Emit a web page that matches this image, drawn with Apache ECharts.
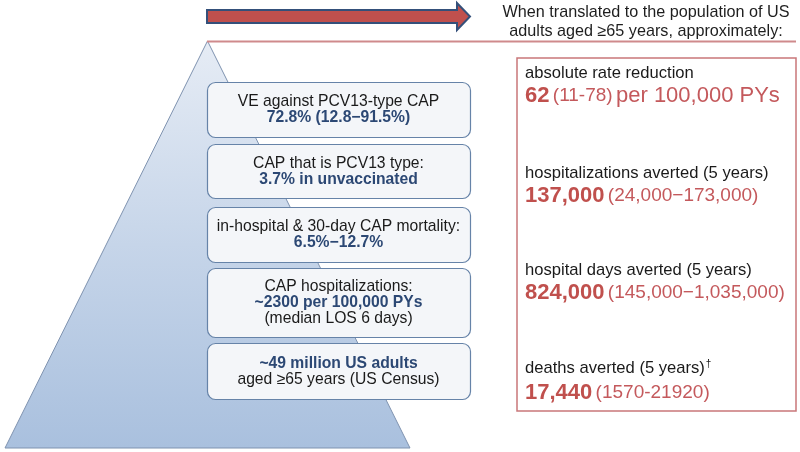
<!DOCTYPE html>
<html>
<head>
<meta charset="utf-8">
<script src="https://cdn.jsdelivr.net/npm/echarts@6/dist/echarts.min.js"></script>
<style>
  html, body { margin: 0; padding: 0; background: #ffffff; }
  #main { width: 800px; height: 452px; }
</style>
</head>
<body>
<div id="main"></div>
<script>
// ---- data ----
const headerLines = ['When translated to the population of US', 'adults aged \u226565 years, approximately:'];
const pyramidValue = [100];
const stepLabels = ['VE against PCV13-type CAP', 'CAP that is PCV13 type:', 'in-hospital & 30-day CAP mortality:', 'CAP hospitalizations:', ''];
const stepValues = ['72.8% (12.8\u221291.5%)', '3.7% in unvaccinated', '6.5%\u221212.7%', '~2300 per 100,000 PYs', '~49 million US adults'];
const stepNotes = ['', '', '', '(median LOS 6 days)', 'aged \u226565 years (US Census)'];
const outcomeLabels = ['absolute rate reduction', 'hospitalizations averted (5 years)', 'hospital days averted (5 years)', 'deaths averted (5 years)'];
const outcomeMarks = ['', '', '', '\u2020'];
const outcomeValues = ['62', '137,000', '824,000', '17,440'];
const outcomeRanges = ['(11-78)', '(24,000\u2212173,000)', '(145,000\u22121,035,000)', '(1570-21920)'];
const outcomeUnits = ['per 100,000 PYs', '', '', ''];

// ---- layout ----
const FONT = '"Liberation Sans", Arial, Helvetica, sans-serif';
const chart = echarts.init(document.getElementById('main'), null, { renderer: 'canvas' });

const graphics = [];

// arrow
graphics.push({
  type: 'polygon', z: 10,
  shape: { points: [[207, 10], [457, 10], [457, 3], [470, 16.5], [457, 30], [457, 23], [207, 23]] },
  style: { fill: '#c0504d', stroke: '#34507a', lineWidth: 2 }
});
// horizontal line
graphics.push({
  type: 'line', z: 10,
  shape: { x1: 207, y1: 41.5, x2: 796, y2: 41.5 },
  style: { stroke: '#cf8a8c', lineWidth: 2 }
});
// header text
headerLines.forEach((t, i) => {
  graphics.push({
    type: 'text', z: 10, x: 646, y: 12.5 + i * 19,
    style: { text: t, font: '16.2px ' + FONT, fill: '#1e1e1e', align: 'center', verticalAlign: 'middle' }
  });
});

// step boxes
const boxTops = [82, 144, 207, 268, 343];
const boxBottoms = [137, 198, 262, 337, 399];
const bx1 = 207, bx2 = 470, bcx = (bx1 + bx2) / 2;
for (let i = 0; i < stepValues.length; i++) {
  graphics.push({
    type: 'rect', z: 20,
    shape: { x: bx1 + 0.5, y: boxTops[i] + 0.5, width: bx2 - bx1, height: boxBottoms[i] - boxTops[i], r: 8 },
    style: { fill: '#f4f6f9', stroke: '#6683a8', lineWidth: 1.2 }
  });
  const parts = [];
  if (stepLabels[i]) parts.push('{n|' + stepLabels[i] + '}');
  parts.push('{b|' + stepValues[i] + '}');
  if (stepNotes[i]) parts.push('{n|' + stepNotes[i] + '}');
  graphics.push({
    type: 'text', z: 21, x: bcx, y: (boxTops[i] + boxBottoms[i]) / 2 + 0.5,
    style: {
      text: parts.join('\n'), align: 'center', verticalAlign: 'middle',
      rich: {
        n: { font: '15.7px ' + FONT, fill: '#1a1a1a', lineHeight: 16, align: 'center' },
        b: { font: 'bold 15.7px ' + FONT, fill: '#2c4874', lineHeight: 16, align: 'center' }
      }
    }
  });
}

// outcome box
graphics.push({
  type: 'rect', z: 10,
  shape: { x: 517, y: 58, width: 279, height: 353 },
  style: { fill: 'none', stroke: '#c9777a', lineWidth: 1.5 }
});
const labelYs = [73, 173, 270, 368];
const valueYs = [96, 196, 293, 393];
for (let i = 0; i < outcomeLabels.length; i++) {
  graphics.push({
    type: 'text', z: 11, x: 525, y: labelYs[i],
    style: {
      text: '{l|' + outcomeLabels[i] + '}' + (outcomeMarks[i] ? '{s|' + outcomeMarks[i] + '}' : ''),
      align: 'left', verticalAlign: 'middle',
      rich: {
        l: { font: '16.6px ' + FONT, fill: '#1a1a1a' },
        s: { font: '10px ' + FONT, fill: '#1a1a1a', padding: [0, 0, 8, 1] }
      }
    }
  });
  graphics.push({
    type: 'text', z: 11, x: 525, y: valueYs[i],
    style: {
      text: '{v|' + outcomeValues[i] + '} {r|' + outcomeRanges[i] + '}' + (outcomeUnits[i] ? ' {u|' + outcomeUnits[i] + '}' : ''),
      align: 'left', verticalAlign: 'middle',
      rich: {
        v: { font: 'bold 22px ' + FONT, fill: '#c0504d' },
        r: { font: '19px ' + FONT, fill: '#c4595c' },
        u: { font: '22px ' + FONT, fill: '#c4595c' }
      }
    }
  });
}

chart.setOption({
  animation: false,
  backgroundColor: '#ffffff',
  series: [{
    type: 'funnel',
    left: 5, top: 41, width: 405, height: 407,
    sort: 'ascending',
    min: 0, max: 100,
    minSize: '0%', maxSize: '100%',
    gap: 0,
    silent: true,
    label: { show: false },
    labelLine: { show: false },
    itemStyle: {
      borderColor: '#7f93b0', borderWidth: 1,
      color: {
        type: 'linear', x: 0, y: 0, x2: 0, y2: 1,
        colorStops: [
          { offset: 0, color: '#e6ecf5' },
          { offset: 0.5, color: '#c6d5e9' },
          { offset: 1, color: '#a9c0de' }
        ]
      }
    },
    emphasis: { disabled: true },
    data: pyramidValue.map(v => ({ value: v, name: 'pyramid' }))
  }],
  graphic: graphics
});
</script>
</body>
</html>
